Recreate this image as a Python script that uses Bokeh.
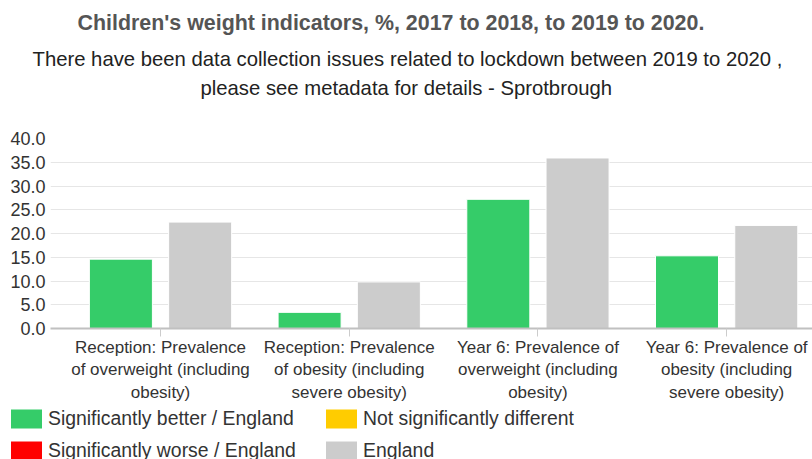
from bokeh.plotting import figure
from bokeh.layouts import column
from bokeh.models import (ColumnDataSource, Range1d, FixedTicker, NumeralTickFormatter,
                          Title, Legend, LegendItem)
from bokeh.transform import dodge
from bokeh.embed import file_html
from bokeh.resources import INLINE

# ---- data ----
title_text = "Children's weight indicators, %, 2017 to 2018, to 2019 to 2020."
subtitle_lines = ["There have been data collection issues related to lockdown between 2019 to 2020 ,",
                  "please see metadata for details - Sprotbrough"]
categories = [
    "Reception: Prevalence\nof overweight (including\nobesity)",
    "Reception: Prevalence\nof obesity (including\nsevere obesity)",
    "Year 6: Prevalence of\noverweight (including\nobesity)",
    "Year 6: Prevalence of\nobesity (including\nsevere obesity)",
]
area_values = [14.6, 3.4, 27.2, 15.3]
england_values = [22.4, 9.8, 35.9, 21.7]
y_ticks = [0, 5, 10, 15, 20, 25, 30, 35, 40]
legend_labels = ["Significantly better / England", "Significantly worse / England",
                 "Not significantly different", "England"]

GREEN = "#35cc69"
GREY = "#cccccc"
YELLOW = "#ffcc00"
RED = "#ff0000"
legend_colors = [GREEN, RED, YELLOW, GREY]
FONT = "Liberation Sans"

positions = list(range(len(categories)))
src = ColumnDataSource(dict(x=positions, area=area_values, england=england_values))

# ---- main chart ----
p = figure(frame_width=762, frame_height=190, output_backend="svg", toolbar_location=None,
           x_range=Range1d(-0.583, 3.455), y_range=Range1d(0, 40),
           min_border_left=50, min_border_right=0, min_border_top=138, min_border_bottom=80)
p.frame_align = False
p.outline_line_color = None
p.background_fill_color = "white"
p.border_fill_color = "white"

p.vbar(x=dodge("x", -0.21, range=p.x_range), top="area", width=0.334, source=src,
       fill_color=GREEN, line_color="white", line_width=1)
p.vbar(x=dodge("x", 0.21, range=p.x_range), top="england", width=0.334, source=src,
       fill_color=GREY, line_color="white", line_width=1)

p.xgrid.grid_line_color = None
p.ygrid.grid_line_color = "#e6e6e6"
p.ygrid.ticker = FixedTicker(ticks=y_ticks)

p.yaxis.ticker = FixedTicker(ticks=y_ticks)
p.yaxis.formatter = NumeralTickFormatter(format="0.0")
p.yaxis.axis_line_color = None
p.yaxis.major_tick_line_color = None
p.yaxis.major_tick_out = 0
p.yaxis.major_tick_in = 0
p.yaxis.minor_tick_line_color = None
p.yaxis.major_label_standoff = 5
p.yaxis.major_label_text_font = FONT
p.yaxis.major_label_text_font_size = "18px"
p.yaxis.major_label_text_color = "#333333"

p.xaxis.ticker = FixedTicker(ticks=positions)
p.xaxis.major_label_overrides = {i: c for i, c in zip(positions, categories)}
p.xaxis.axis_line_color = "#c0c0c0"
p.xaxis.axis_line_width = 2
p.xaxis.major_tick_line_color = "#cccccc"
p.xaxis.major_tick_out = 8
p.xaxis.major_tick_in = 0
p.xaxis.minor_tick_line_color = None
p.xaxis.major_label_standoff = 1
p.xaxis.major_label_text_font = FONT
p.xaxis.major_label_text_font_size = "17px"
p.xaxis.major_label_text_color = "#333333"

# titles (first added sits closest to the frame)
p.add_layout(Title(text=" ", text_font_size="2px", standoff=34), "above")
p.add_layout(Title(text=subtitle_lines[1], align="left", offset=150, standoff=4,
                   text_font=FONT, text_font_size="20.3px", text_font_style="normal",
                   text_color="#222222"), "above")
p.add_layout(Title(text=subtitle_lines[0], align="left", offset=-18, standoff=6,
                   text_font=FONT, text_font_size="20.3px", text_font_style="normal",
                   text_color="#222222"), "above")
p.add_layout(Title(text=title_text, align="left", offset=27, standoff=12, vertical_align="top",
                   text_font=FONT, text_font_size="21.4px", text_font_style="bold",
                   text_color="#555555"), "above")

# ---- legend strip ----
lg = figure(width=812, height=51, output_backend="svg", toolbar_location=None,
            x_range=Range1d(0, 812), y_range=Range1d(0, 51),
            x_axis_location=None, y_axis_location=None,
            min_border_left=0, min_border_right=0, min_border_top=0, min_border_bottom=0)
lg.frame_align = False
lg.outline_line_color = None
lg.xgrid.grid_line_color = None
lg.ygrid.grid_line_color = None
# zero-height placeholder bars: they only carry the colours for the legend swatches
legend_renderers = [lg.vbar(x=[0], top=[0], width=0, fill_color=c, line_color="white")
                    for c in legend_colors]

legend = Legend(items=[LegendItem(label=l, renderers=[r])
                       for l, r in zip(legend_labels, legend_renderers)],
                location=(6, -3.5), ncols=2, glyph_width=40, glyph_height=25,
                label_height=25, label_width=266, label_standoff=2, spacing=7,
                padding=0, margin=0, border_line_color=None, background_fill_alpha=0,
                label_text_font=FONT, label_text_font_size="19.4px", label_text_color="#333333")
lg.add_layout(legend)

layout = column(p, lg, spacing=0)
open("out.html", "w").write(file_html(layout, INLINE))
